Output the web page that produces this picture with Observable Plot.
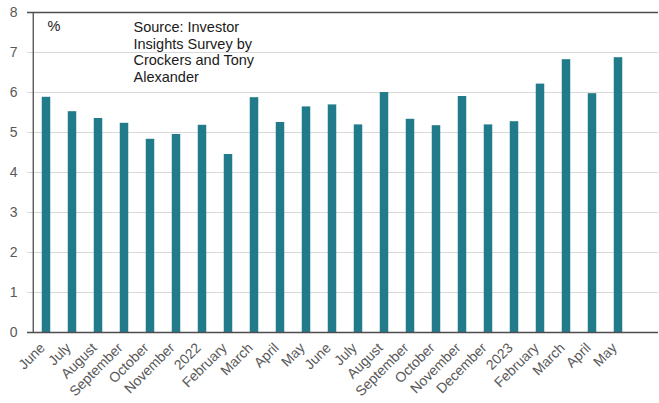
<!DOCTYPE html>
<html><head><meta charset="utf-8">
<script src="https://cdn.jsdelivr.net/npm/d3@7"></script>
<script src="https://cdn.jsdelivr.net/npm/@observablehq/plot@0.6"></script>
<style>body{margin:0;background:#fff;}</style>
</head><body><div id="chart"></div>
<script>
const periods = ["2021-06","2021-07","2021-08","2021-09","2021-10","2021-11","2022-01","2022-02","2022-03","2022-04","2022-05","2022-06","2022-07","2022-08","2022-09","2022-10","2022-11","2022-12","2023-01","2023-02","2023-03","2023-04","2023-05"];
const tickLabels = ["June","July","August","September","October","November","2022","February","March","April","May","June","July","August","September","October","November","December","2023","February","March","April","May"];
const values = [5.88,5.52,5.35,5.23,4.83,4.95,5.18,4.45,5.87,5.25,5.64,5.69,5.19,6.0,5.33,5.17,5.9,5.19,5.27,6.21,6.82,5.97,6.87];
const yTicks = [0,1,2,3,4,5,6,7,8];
const gridLines = [1,2,3,4,5,6,7];
const unitLabel = ["%"];
const sourceNote = ["Source: Investor\nInsights Survey by\nCrockers and Tony\nAlexander"];

const data = periods.map((p, i) => ({period: p, label: tickLabels[i], value: values[i]}));
const font = "'Liberation Sans', Arial, sans-serif";
const xRange = [27, 636.3];
const step = (xRange[1] - xRange[0]) / periods.length;

const chart = Plot.plot({
  width: 659,
  height: 403,
  marginTop: 12,
  marginBottom: 71,
  marginLeft: 27,
  marginRight: 1,
  style: {fontFamily: font, fontSize: "14px", color: "#595959", background: "#fff"},
  x: {type: "band", domain: periods, range: xRange, padding: 0, label: null},
  y: {domain: [0, 8], label: null},
  marks: [
    Plot.ruleY(gridLines, {stroke: "#d9d9d9", strokeWidth: 1}),
    Plot.barY(data, {x: "period", y: "value", fill: "#227b8b", insetLeft: 8.75, insetRight: 8.75}),
    Plot.ruleY([8], {stroke: "#4d4d4d", strokeWidth: 1.3}),
    Plot.ruleY([0], {stroke: "#4d4d4d", strokeWidth: 1.3}),
    Plot.ruleX([periods[0]], {y1: 0, y2: 8, dx: -step / 2, stroke: "#4d4d4d", strokeWidth: 1.3}),
    Plot.axisY(yTicks, {tickSize: 0, tickPadding: 10, fill: "#595959", fontSize: 14, label: null}),
    Plot.axisX(periods, {tickSize: 0, tickPadding: 13, tickRotate: -45, fill: "#595959", fontSize: 14, dx: -4, label: null,
      tickFormat: d => tickLabels[periods.indexOf(d)]}),
    Plot.text(unitLabel, {text: d => d, frameAnchor: "top-left", lineAnchor: "top", textAnchor: "start",
      dx: 20, dy: 8, fill: "#1a1a1a", fontSize: 14.5}),
    Plot.text(sourceNote, {text: d => d, frameAnchor: "top-left", lineAnchor: "top", textAnchor: "start",
      dx: 106, dy: 7.5, lineHeight: 1.15, fill: "#1a1a1a", fontSize: 14.5})
  ]
});
document.getElementById("chart").appendChild(chart);
</script>
</body></html>
